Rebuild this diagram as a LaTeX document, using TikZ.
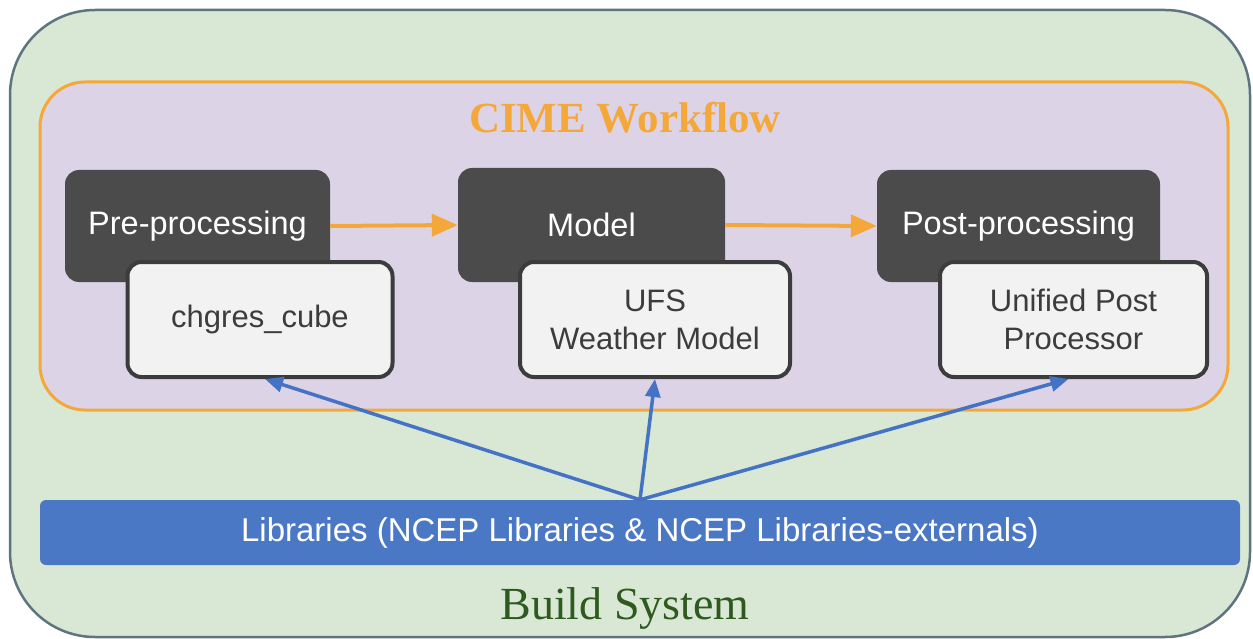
\documentclass[tikz,border=0pt]{standalone}
\usepackage{fontspec}
\setmainfont{Liberation Serif}
\setsansfont{Liberation Sans}
\usetikzlibrary{arrows.meta}
\definecolor{buildfill}{HTML}{D9E8D5}
\definecolor{buildline}{HTML}{5E7480}
\definecolor{cimefill}{HTML}{DDD3E7}
\definecolor{cimeorange}{HTML}{F5A83A}
\definecolor{stagegray}{HTML}{4B4B4B}
\definecolor{toolfill}{HTML}{F2F2F2}
\definecolor{toolline}{HTML}{3C3C3C}
\definecolor{libblue}{HTML}{4A78C5}
\definecolor{linkblue}{HTML}{4472C4}
\definecolor{buildgreen}{HTML}{2F5A1F}
\begin{document}
\begin{tikzpicture}[x=1pt,y=-1pt,
        stage/.style = {fill=stagegray,rounded corners=14pt,text=white,
            font=\sffamily\fontsize{32.5}{36}\selectfont},
        tool/.style = {fill=toolfill,draw=toolline,line width=4pt,rounded corners=14pt,
            text=toolline,align=center,font=\sffamily\fontsize{31}{38}\selectfont},
        flow/.style = {cimeorange,line width=4pt,-{Triangle[length=26pt,width=22pt]}},
        link/.style = {linkblue,line width=3.5pt,-{Triangle[length=18pt,width=15pt]}}]
    \useasboundingbox (0,0) rectangle (1253,639);

    \draw[fill=buildfill,draw=buildline,line width=2.5pt,rounded corners=85pt]
        (10,10) rectangle (1250,637);
    \draw[fill=cimefill,draw=cimeorange,line width=3pt,rounded corners=45pt]
        (40,82) rectangle (1228,410);

    \node[text=cimeorange,font=\bfseries\fontsize{43}{46}\selectfont] (cime) at (625,118) {CIME Workflow};
    \node[text=buildgreen,font=\fontsize{46}{50}\selectfont] (build) at (625,609) {Build System};

    \node[stage,minimum width=265pt,minimum height=112pt] (pre) at (197.5,226) {Pre-processing};
    \node[stage,minimum width=267pt,minimum height=114pt] (model) at (591.5,225) {Model};
    \node[stage,minimum width=283pt,minimum height=112pt] (post) at (1018.5,226) {Post-processing};

    \node[tool,minimum width=265pt,minimum height=115pt] (chgres) at (260,319.5) {chgres\_cube};
    \node[tool,minimum width=270pt,minimum height=115pt] (ufs) at (655,319.5) {UFS\\Weather Model};
    \node[tool,minimum width=267pt,minimum height=115pt] (upp) at (1073.5,319.5) {Unified Post\\Processor};

    \draw[flow] (pre.east) -- (model.west);
    \draw[flow] (model.east) -- (post.west);

    \node[fill=libblue,rounded corners=6pt,minimum width=1200pt,minimum height=65pt,
        text=white,font=\sffamily\fontsize{33}{36}\selectfont] (lib) at (640,532.5)
        {Libraries (NCEP Libraries \& NCEP Libraries-externals)};

    \draw[link] (lib.north) -- ([xshift=5pt]chgres.south);
    \draw[link] (lib.north) -- (ufs.south);
    \draw[link] (lib.north) -- ([xshift=-5pt]upp.south);
\end{tikzpicture}
\end{document}
